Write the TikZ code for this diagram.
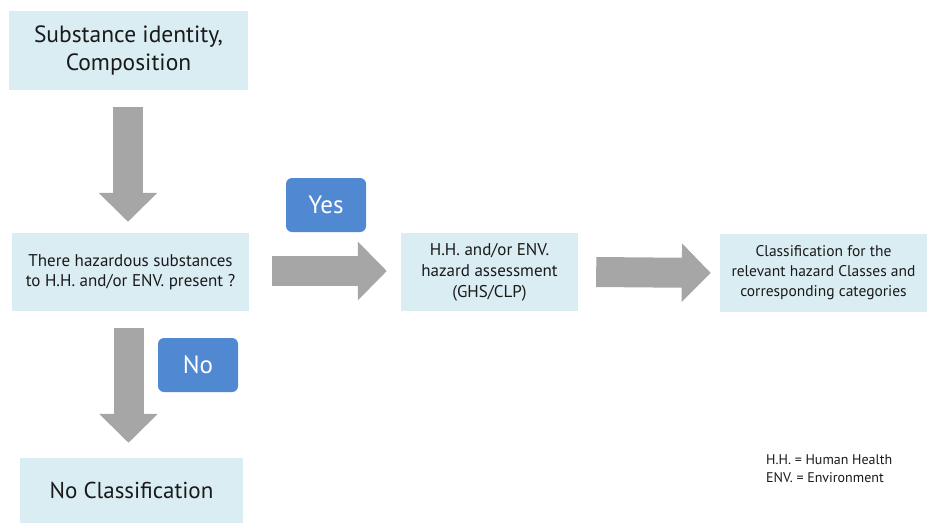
\documentclass[tikz,border=0pt]{standalone}
\usepackage{fontspec}
\setmainfont{PT Sans}
\usetikzlibrary{arrows.meta}
\definecolor{boxfill}{HTML}{DAEDF3}
\definecolor{arrowgrey}{HTML}{A6A6A6}
\definecolor{labelblue}{HTML}{5088D2}
\definecolor{txt}{HTML}{1A1A1A}
\tikzset{
  box/.style={fill=boxfill, draw=none, inner sep=0pt, align=center, text=txt},
  tag/.style={fill=labelblue, draw=none, rounded corners=6pt, inner sep=0pt,
    minimum width=80pt, minimum height=54pt, text=white, font=\fontsize{25}{28}\selectfont},
  fatarrow/.style={draw=arrowgrey, line width=30pt, line cap=butt,
    -{Triangle[length=29pt,width=57pt,fill=arrowgrey]}},
}
\begin{document}
\begin{tikzpicture}[x=1pt,y=-1pt]
\useasboundingbox (0,0) rectangle (931,525);
\node[box, minimum width=239pt, minimum height=79pt, font=\fontsize{23.5}{28}\selectfont]
  (b1) at (128.5,50.5) {Substance identity,\\Composition};
\node[box, minimum width=237pt, minimum height=78pt, font=\fontsize{17}{20}\selectfont]
  (b2) at (130.5,272) {There hazardous substances\\to H.H. and/or ENV. present ?};
\node[box, minimum width=177pt, minimum height=78pt, font=\fontsize{17}{21}\selectfont]
  (b3) at (489.5,272) {H.H. and/or ENV.\\hazard assessment\\(GHS/CLP)};
\node[box, minimum width=207pt, minimum height=78pt, font=\fontsize{15.5}{20}\selectfont]
  (b4) at (823.5,273) {Classification for the\\relevant hazard Classes and\\corresponding categories};
\node[box, minimum width=223pt, minimum height=65pt, font=\fontsize{23}{26}\selectfont]
  (b5) at (131.5,490.5) {No Classification};
\node[tag] (yes) at (326,205) {Yes};
\node[tag] (no) at (198,365) {No};
\node[anchor=west, align=left, inner sep=0pt, text=txt, font=\fontsize{14}{18}\selectfont]
  (legend) at (766,469) {H.H. = Human Health\\ENV. = Environment};
\draw[fatarrow] ([xshift=-0.5pt,yshift=-17pt]b1.south) -- ([xshift=-2.5pt,yshift=11pt]b2.north);
\draw[fatarrow] ([xshift=-2pt,yshift=-17pt]b2.south) -- ([xshift=-3pt,yshift=15pt]b5.north);
\draw[fatarrow] ([xshift=23pt,yshift=1pt]b2.east) -- ([xshift=-14pt,yshift=1pt]b3.west);
\draw[fatarrow] ([xshift=18pt]b3.east) -- ([xshift=-9pt]b4.west);
\end{tikzpicture}
\end{document}
